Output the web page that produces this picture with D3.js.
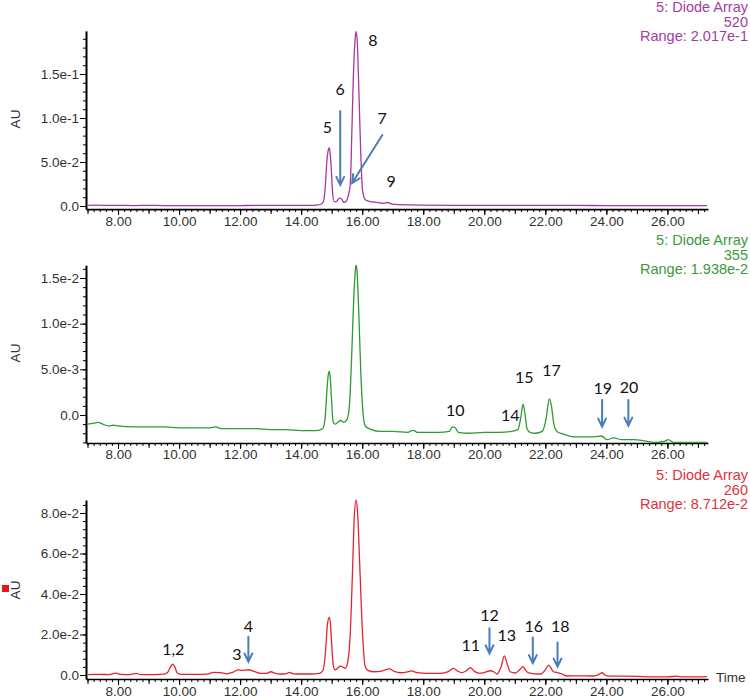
<!DOCTYPE html>
<html><head><meta charset="utf-8">
<script src="https://cdn.jsdelivr.net/npm/d3@7"></script>
<style>
body{margin:0;background:#fff;}
svg{display:block;}
.ax text{font-family:"Liberation Sans",Arial,sans-serif;font-size:13.5px;fill:#333;}
</style></head>
<body>
<svg id="c" width="750" height="698"></svg>
<script>
// ---------- DATA ----------
// 520 nm trace
const t520 = [7.0,7.3,7.6,8.0,8.5,9.0,9.5,10.0,10.5,11.0,11.5,12.0,12.5,13.0,13.5,14.0,14.3,14.5,14.65,14.73,14.79,14.84,14.88,14.92,14.95,14.98,15.03,15.08,15.15,15.25,15.32,15.40,15.47,15.53,15.61,15.66,15.71,15.76,15.80,15.84,15.90,15.96,16.01,16.10,16.26,16.50,16.70,16.83,16.95,17.2,17.5,18,19,20,21,22,23,24,25,26,27.3];
const v520 = [0.0008,0.0010,0.0006,0.0008,0.0005,0.0007,0.0005,0.0005,0.0004,0.0005,0.0004,0.0005,0.0007,0.0006,0.0008,0.0008,0.0007,0.0010,0.002,0.005,0.022,0.050,0.062,0.066,0.060,0.046,0.015,0.005,0.005,0.009,0.008,0.004,0.005,0.010,0.025,0.083,0.147,0.186,0.1985,0.185,0.120,0.052,0.018,0.007,0.005,0.004,0.003,0.004,0.0025,0.0015,0.0012,0.0010,0.0008,0.0008,0.0007,0.0006,0.0006,0.0005,0.0005,0.0005,0.0005];
// 355 nm trace
const t355 = [7.0,7.2,7.35,7.5,7.7,7.85,8.0,8.5,9.0,9.5,10.0,10.5,11.0,11.2,11.4,12.0,12.5,13.0,13.5,14.0,14.5,14.7,14.78,14.84,14.88,14.92,14.95,14.99,15.05,15.12,15.2,15.3,15.4,15.5,15.58,15.65,15.72,15.78,15.80,15.83,15.88,15.95,16.02,16.1,16.3,16.6,17.0,17.5,17.62,17.7,17.8,18.2,18.5,18.85,18.95,19.05,19.15,19.5,20.0,20.5,20.9,21.1,21.2,21.27,21.33,21.40,21.5,21.67,21.9,22.02,22.13,22.2,22.28,22.38,22.6,22.93,23.3,23.6,23.84,24.02,24.24,24.5,24.9,25.2,25.55,25.9,26.03,26.2,26.5,27.0,27.3];
const v355 = [-0.0010,-0.0009,-0.0008,-0.0010,-0.0012,-0.0011,-0.0012,-0.0013,-0.0013,-0.0013,-0.0014,-0.0014,-0.0014,-0.0013,-0.0015,-0.0015,-0.0015,-0.0016,-0.0016,-0.0017,-0.0017,-0.0015,-0.0005,0.0025,0.0042,0.0048,0.0042,0.0020,-0.0008,-0.0010,-0.0008,-0.0006,-0.0008,-0.0005,0.0010,0.0060,0.0125,0.0160,0.0164,0.0158,0.0120,0.0050,0.0005,-0.0012,-0.0016,-0.0018,-0.0018,-0.0019,-0.0017,-0.0017,-0.0019,-0.0019,-0.0019,-0.0018,-0.0013,-0.0014,-0.0019,-0.0020,-0.0019,-0.0019,-0.0018,-0.0016,-0.0002,0.0012,0.0002,-0.0015,-0.0019,-0.0020,-0.0018,-0.0005,0.00175,0.0010,-0.0010,-0.0018,-0.0021,-0.0024,-0.0024,-0.0024,-0.0023,-0.0027,-0.0025,-0.0027,-0.0027,-0.0028,-0.0030,-0.0029,-0.0027,-0.0030,-0.0030,-0.0030,-0.0030];
// 260 nm trace
const t260 = [7.0,7.4,7.7,7.93,8.1,8.4,8.59,8.75,9.2,9.5,9.62,9.72,9.79,9.86,9.94,10.1,10.5,10.9,11.13,11.35,11.57,11.75,11.94,12.05,12.27,12.45,12.66,12.85,13.01,13.15,13.32,13.5,13.62,13.75,13.97,14.3,14.6,14.72,14.8,14.86,14.92,14.96,15.0,15.06,15.11,15.2,15.28,15.36,15.44,15.52,15.61,15.68,15.74,15.80,15.85,15.92,16.01,16.10,16.2,16.37,16.6,16.89,17.05,17.25,17.45,17.61,17.8,18.12,18.56,18.8,18.99,19.12,19.26,19.4,19.54,19.68,19.81,20.0,20.2,20.32,20.42,20.55,20.66,20.76,20.85,21.02,21.15,21.27,21.36,21.45,21.84,22.0,22.11,22.2,22.27,22.43,22.55,22.71,23.0,23.57,23.75,23.86,23.95,24.09,24.5,25.0,25.5,26.0,26.3,26.5,27.0,27.3];
const v260 = [0.0002,0.0003,0.0002,0.0009,0.0003,0.0002,0.0008,0.0002,0.0002,0.0004,0.0012,0.0040,0.0053,0.0040,0.0010,0.0003,0.0003,0.0004,0.0013,0.0012,0.0006,0.0013,0.0025,0.0023,0.0026,0.0018,0.0008,0.0008,0.0016,0.0008,0.0005,0.0006,0.0013,0.0006,0.0005,0.0005,0.0008,0.0025,0.0120,0.0250,0.0285,0.0250,0.0150,0.0040,0.0025,0.0035,0.0044,0.0040,0.0033,0.0060,0.0210,0.0500,0.0780,0.0865,0.0800,0.0540,0.0206,0.0040,0.0022,0.0016,0.0018,0.0030,0.0018,0.0011,0.0014,0.0020,0.0012,0.0008,0.0008,0.0015,0.0033,0.0020,0.0012,0.0020,0.0036,0.0018,0.0009,0.0012,0.0021,0.0015,0.0005,0.0040,0.0094,0.0050,0.0016,0.0010,0.0025,0.0041,0.0022,0.0011,0.0005,0.0025,0.0049,0.0030,0.0016,0.0011,0.0005,-0.0005,-0.0004,-0.0005,0.0002,0.0011,0.0000,-0.0006,-0.0006,-0.0007,-0.0009,-0.0009,-0.0006,-0.0009,-0.0009,-0.0008];

// Tick labels
const xTickValues = [8,10,12,14,16,18,20,22,24,26];
const xTickLabels = ["8.00","10.00","12.00","14.00","16.00","18.00","20.00","22.00","24.00","26.00"];
const y520Ticks = [0,0.05,0.10,0.15];
const y520Labels = ["0.0","5.0e-2","1.0e-1","1.5e-1"];
const y355Ticks = [0,0.005,0.010,0.015];
const y355Labels = ["0.0","5.0e-3","1.0e-2","1.5e-2"];
const y260Ticks = [0,0.02,0.04,0.06,0.08];
const y260Labels = ["0.0","2.0e-2","4.0e-2","6.0e-2","8.0e-2"];

// Header texts
const head520 = ["5: Diode Array","520","Range: 2.017e-1"];
const head355 = ["5: Diode Array","355","Range: 1.938e-2"];
const head260 = ["5: Diode Array","260","Range: 8.712e-2"];

// Peak annotations [label, time, value]
const ann520 = [["5",14.86,0.089],["6",15.28,0.1326],["7",16.65,0.0997],["8",16.35,0.1878],["9",16.95,0.0284]];
const ann355 = [["10",19.05,0.00055],["14",20.85,-0.00008],["15",21.31,0.00412],["17",22.20,0.00492],["19",23.88,0.00292],["20",24.74,0.00299]];
const ann260 = [["1,2",9.81,0.0128],["3",11.89,0.0104],["4",12.27,0.0239],["11",19.56,0.0145],["12",20.17,0.0296],["13",20.74,0.0198],["16",21.62,0.0239],["18",22.49,0.0242]];
// Arrows [t1,v1,t2,v2]
const arr520 = [[15.28,0.108,15.28,0.0239],[16.66,0.0807,15.67,0.0261]];
const arr355 = [[23.86,0.00164,23.86,-0.00128],[24.72,0.00164,24.72,-0.00117]];
const arr260 = [[12.27,0.0189,12.27,0.0066],[20.17,0.0231,20.17,0.0107],[21.59,0.0185,21.59,0.0058],[22.40,0.0160,22.40,0.0041]];

// ---------- DRAW ----------
const svg = d3.select("#c");
const x = d3.scaleLinear().domain([6.95,27.33]).range([86,708]);
const arrowColor = "#4a7ebb";

const panels = [
  {t:t520,v:v520,dom:[-0.0035,0.199],rng:[209.08,30.88],ticks:y520Ticks,labels:y520Labels,minor:0.01,color:"#a43aa4",textColor:"#a23ea2",head:head520,headY:7,auY:119,ann:ann520,arr:arr520},
  {t:t355,v:v355,dom:[-0.00306,0.0164],rng:[442.95,265.2],ticks:y355Ticks,labels:y355Labels,minor:0.001,color:"#2f9a2f",textColor:"#3a9a3a",head:head355,headY:240,auY:353,ann:ann355,arr:arr355},
  {t:t260,v:v260,dom:[-0.002,0.0864],rng:[679.05,500.04],ticks:y260Ticks,labels:y260Labels,minor:0.004,color:"#e8222c",textColor:"#e0323a",head:head260,headY:475,auY:590,ann:ann260,arr:arr260}
];

const minorX = d3.range(7,27.3+1e-9,0.2);
const intX = d3.range(7,28,1);

panels.forEach((p,i)=>{
  const y = d3.scaleLinear().domain(p.dom).range(p.rng);
  const y0 = p.rng[0];
  // x axis
  const gx = svg.append("g").attr("class","ax").attr("transform",`translate(0,${y0})`);
  gx.call(d3.axisBottom(x).tickValues(minorX).tickSize(3).tickSizeOuter(0).tickFormat(""));
  gx.append("g").call(d3.axisBottom(x).tickValues(intX).tickSize(5).tickSizeOuter(0).tickFormat("")).select(".domain").remove();
  const gl = gx.append("g").call(d3.axisBottom(x).tickValues(xTickValues).tickSize(6).tickSizeOuter(0).tickFormat((d,k)=>xTickLabels[k]));
  gl.select(".domain").remove();
  gl.selectAll("text").attr("dy","0.85em").attr("y",5);
  gx.select(".domain").attr("stroke-width",1.6);
  // y axis
  const minorY = d3.range(Math.ceil(p.dom[0]/p.minor)*p.minor, p.dom[1], p.minor);
  const gy = svg.append("g").attr("class","ax").attr("transform","translate(86,0)");
  gy.call(d3.axisLeft(y).tickValues(minorY).tickSize(3).tickSizeOuter(0).tickFormat(""));
  gy.select(".domain").attr("stroke-width",2);
  const gyl = gy.append("g").call(d3.axisLeft(y).tickValues(p.ticks).tickSize(6).tickSizeOuter(0).tickFormat((d,k)=>p.labels[k]));
  gyl.select(".domain").remove();
  gyl.selectAll("text").attr("x",-7);
  // AU label
  svg.append("text").attr("transform",`translate(20,${p.auY}) rotate(-90)`)
    .attr("text-anchor","middle").style("font-family","Liberation Sans, Arial, sans-serif")
    .style("font-size","13.5px").style("fill","#333").text("AU");
  // trace
  const line = d3.line().x(d=>x(d[0])).y(d=>y(d[1])).curve(d3.curveMonotoneX);
  svg.append("path").datum(p.t.map((tt,k)=>[tt,p.v[k]]))
    .attr("d",line).attr("fill","none").attr("stroke",p.color).attr("stroke-width",1.3);
  // header
  p.head.forEach((s,k)=>{
    svg.append("text").attr("x",748).attr("y",p.headY+k*14.5).attr("dy","0.35em")
      .attr("text-anchor","end").style("font-family","Liberation Sans, Arial, sans-serif")
      .style("font-size","14.5px").style("fill",p.textColor).text(s);
  });
  // annotations
  p.ann.forEach(a=>{
    svg.append("text").attr("x",x(a[1])).attr("y",y(a[2])).attr("dy","0.36em")
      .attr("text-anchor","middle").style("font-family","Lato, 'Open Sans', sans-serif")
      .style("font-size","16px").style("fill","#111").text(a[0]);
  });
  p.arr.forEach(a=>{
    const x1=x(a[0]),y1=y(a[1]),x2=x(a[2]),y2=y(a[3]);
    const ang=Math.atan2(y2-y1,x2-x1), L=9, sp=0.45;
    const h1=[x2-L*Math.cos(ang-sp),y2-L*Math.sin(ang-sp)];
    const h2=[x2-L*Math.cos(ang+sp),y2-L*Math.sin(ang+sp)];
    svg.append("path").attr("d",`M${x1},${y1}L${x2},${y2}M${h1[0]},${h1[1]}L${x2},${y2}L${h2[0]},${h2[1]}`)
      .attr("fill","none").attr("stroke",arrowColor).attr("stroke-width",2).attr("stroke-linecap","round");
  });
});
// red marker square
svg.append("rect").attr("x",2).attr("y",585).attr("width",7).attr("height",7).attr("fill","#e8141c");
// Time label
svg.append("text").attr("x",716).attr("y",681).attr("dy","0.1em").style("font-family","Liberation Sans, Arial, sans-serif")
  .style("font-size","13.5px").style("fill","#333").text("Time");
</script>
</body></html>
